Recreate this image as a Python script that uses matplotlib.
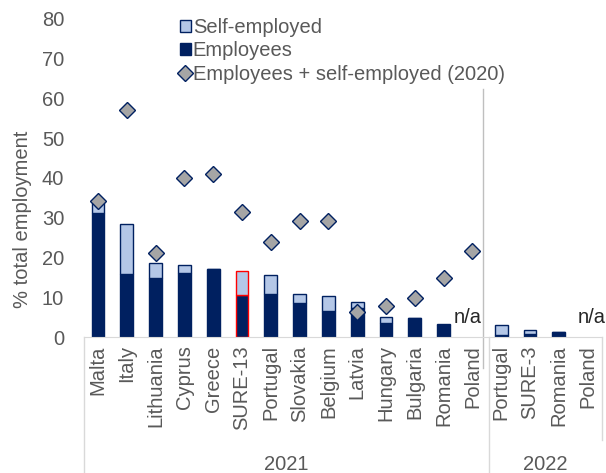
import matplotlib
matplotlib.use("Agg")
import matplotlib.pyplot as plt
import matplotlib.transforms as mtransforms
import numpy as np

categories = ["Malta", "Italy", "Lithuania", "Cyprus", "Greece", "SURE-13", "Portugal",
              "Slovakia", "Belgium", "Latvia", "Hungary", "Bulgaria", "Romania", "Poland",
              "Portugal", "SURE-3", "Romania", "Poland"]
employees = [31.1, 15.8, 14.9, 16.0, 17.2, 10.5, 10.9, 8.5, 6.6, 7.2, 3.6, 4.7, 3.0, np.nan,
             0.4, 0.8, 1.2, np.nan]
self_employed = [2.7, 12.7, 3.7, 2.1, 0.0, 6.1, 4.7, 2.3, 3.8, 1.7, 1.4, 0.0, 0.2, np.nan,
                 2.5, 1.0, 0.0, np.nan]
total_2020 = [34.3, 57.2, 21.1, 40.0, 41.1, 31.4, 23.8, 29.3, 29.3, 6.4, 7.9, 9.7, 14.9, 21.7,
              np.nan, np.nan, np.nan, np.nan]
years = ["2021", "2022"]
yticks = [0, 10, 20, 30, 40, 50, 60, 70, 80]

navy = "#002060"
light = "#B4C7E7"
grey_txt = "#595959"
fs = 14.5
plt.rcParams['font.family'] = ['Liberation Sans', 'DejaVu Sans']

fig = plt.figure(figsize=(6.06, 4.73), dpi=100)
ax = fig.add_axes([0.138, 0.2875, 0.9934 - 0.138, 0.96 - 0.2875])

x = np.arange(len(categories))
emp = np.array(employees, dtype=float)
se = np.array(self_employed, dtype=float)
edges = ["red" if c == "SURE-13" else navy for c in categories]
w = 0.44
b_emp = ax.bar(x, emp, width=w, color=navy, edgecolor=edges, linewidth=1.0, zorder=2)
b_se = ax.bar(x, se, width=w, bottom=emp, color=light, edgecolor=edges, linewidth=1.0, zorder=2)
l_tot, = ax.plot(x, total_2020, linestyle="none", marker="D", markersize=8.5,
                 markerfacecolor="#A5A5A5", markeredgecolor=navy, markeredgewidth=1.0, zorder=3)

ax.set_xlim(-0.5, len(categories) - 0.5)
ax.set_ylim(0, 80)
ax.set_yticks(yticks)
ax.tick_params(axis="y", length=0, labelsize=fs, labelcolor=grey_txt, pad=14)
ax.set_xticks(x)
ax.set_xticklabels(categories, rotation=90, fontsize=fs, color=grey_txt, va="top")
ax.tick_params(axis="x", length=0, pad=6)
for s in ["left", "right", "top"]:
    ax.spines[s].set_visible(False)
ax.spines["bottom"].set_color("#D9D9D9")
ax.set_ylabel("% total employment", fontsize=fs, color=grey_txt)
ax.yaxis.set_label_coords(-0.099, 0.371)

# n/a labels
ax.text(12.85, 4.8, "n/a", fontsize=fs, color="#262626", ha="center", va="center", zorder=4)
ax.text(17.15, 4.8, "n/a", fontsize=fs, color="#262626", ha="center", va="center", zorder=4)

# separator line in plot
blend = mtransforms.blended_transform_factory(ax.transData, fig.transFigure)
sep_x = 13.37
ax.plot([sep_x, sep_x], [1 - 89 / 473, 1 - 368 / 473], color="#BFBFBF", lw=1.0,
        transform=blend, clip_on=False, zorder=1)
# group box lines
box_c = "#D9D9D9"
ax.plot([-0.5, -0.5], [0.2875, 0.0], color=box_c, lw=1.0, transform=blend, clip_on=False)
ax.plot([13.58, 13.58], [0.2875, 0.0], color=box_c, lw=1.0, transform=blend, clip_on=False)
ax.plot([17.5, 17.5], [0.2875, 1 - 440 / 473], color=box_c, lw=1.0, transform=blend, clip_on=False)

# year labels
bounds = [-0.5, 13.58, 17.5]
for i, yr in enumerate(years):
    cx = (bounds[i] + bounds[i + 1]) / 2
    ax.text(cx, 1 - 464 / 473, yr, transform=blend, fontsize=fs, color=grey_txt,
            ha="center", va="center")

leg = ax.legend([b_se, b_emp, l_tot],
                ["Self-employed", "Employees", "Employees + self-employed (2020)"],
                loc="upper left", bbox_to_anchor=(0.275, 0.99), bbox_transform=fig.transFigure,
                frameon=False, fontsize=fs, labelspacing=0.22, handlelength=0.55,
                handleheight=0.55, handletextpad=0.1, borderaxespad=0.25)
for t in leg.get_texts():
    t.set_color(grey_txt)

fig.savefig("out.png", dpi=100)
